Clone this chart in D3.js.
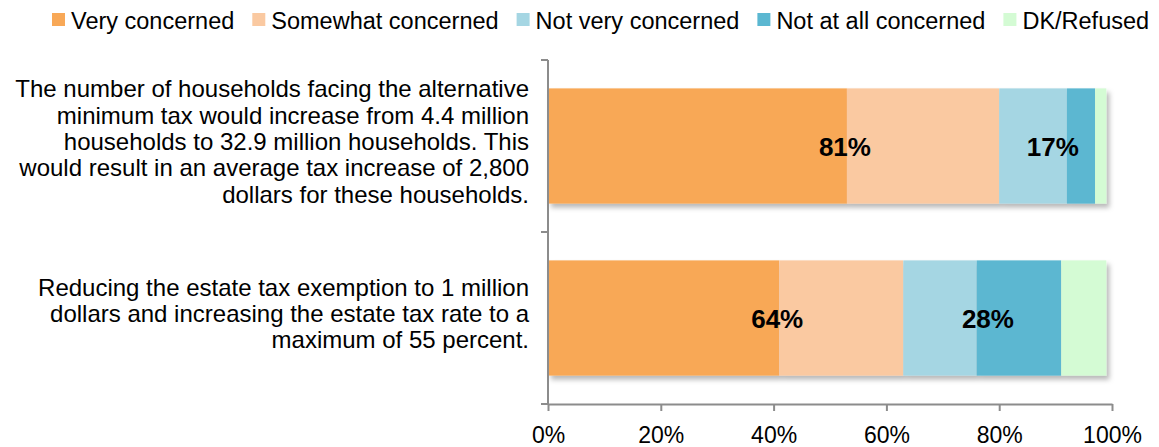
<!DOCTYPE html>
<html>
<head>
<meta charset="utf-8">
<script src="https://cdn.jsdelivr.net/npm/d3@7"></script>
<style>
  body { margin: 0; background: #fff; }
  svg { display: block; font-family: "Liberation Sans", Arial, sans-serif; }
</style>
</head>
<body>
<svg id="chart" width="1159" height="447"></svg>
<script>
// --- data --------------------------------------------------------
const categories = [
  "The number of households facing the alternative minimum tax would increase from 4.4 million households to 32.9 million households. This would result in an average tax increase of 2,800 dollars for these households.",
  "Reducing the estate tax exemption to 1 million dollars and increasing the estate tax rate to a maximum of 55 percent."
];
// line breaks as they appear in the original
const categoryLines = [
  ["The number of households facing the alternative",
   "minimum tax would increase from 4.4 million",
   "households to 32.9 million households. This",
   "would result in an average tax increase of 2,800",
   "dollars for these households."],
  ["Reducing the estate tax exemption to 1 million",
   "dollars and increasing the estate tax rate to a",
   "maximum of 55 percent."]
];
const seriesNames = ["Very concerned", "Somewhat concerned", "Not very concerned", "Not at all concerned", "DK/Refused"];
const veryConcerned     = [53, 41];
const somewhatConcerned = [27, 22];
const notVeryConcerned  = [12, 13];
const notAtAllConcerned = [5, 15];
const dkRefused         = [2, 8];
const concernedTotal    = [81, 64];
const notConcernedTotal = [17, 28];
const xTicks = [0, 20, 40, 60, 80, 100];

const colors = ["#F8A857", "#FAC9A1", "#A5D6E3", "#5BB7D1", "#D4FBD4"];

// --- layout ------------------------------------------------------
const svg = d3.select("#chart");
const plotLeft = 548, plotRight = 1112, plotTop = 60, plotBottom = 404;

const x = d3.scaleLinear().domain([0, 100]).range([plotLeft, plotRight]);
const y = d3.scaleBand().domain(categories).range([plotTop, plotBottom])
  .paddingInner(0.33).paddingOuter(0.165);
const color = d3.scaleOrdinal().domain(seriesNames).range(colors);

const rows = categories.map((c, i) => ({
  cat: c,
  values: [veryConcerned[i], somewhatConcerned[i], notVeryConcerned[i], notAtAllConcerned[i], dkRefused[i]]
}));

// shadow under the bars
const defs = svg.append("defs");
const f = defs.append("filter").attr("id", "shadow")
  .attr("x", "-5%").attr("y", "-10%").attr("width", "115%").attr("height", "130%");
f.append("feDropShadow").attr("dx", 3).attr("dy", 4).attr("stdDeviation", 2.5)
  .attr("flood-color", "#000").attr("flood-opacity", 0.28);

// bars
const barG = svg.append("g").selectAll("g").data(rows).enter().append("g")
  .attr("filter", "url(#shadow)");

barG.selectAll("rect")
  .data(d => {
    let acc = 0;
    return d.values.map((v, j) => { const s = acc; acc += v; return { cat: d.cat, name: seriesNames[j], x0: s, x1: acc }; });
  })
  .enter().append("rect")
  .attr("x", d => x(d.x0))
  .attr("width", d => x(d.x1) - x(d.x0))
  .attr("y", d => y(d.cat))
  .attr("height", y.bandwidth())
  .attr("fill", d => color(d.name));

// axes
const axisColor = "#8c8c8c";
const xAxis = svg.append("g")
  .attr("transform", `translate(0,${plotBottom})`)
  .call(d3.axisBottom(x).tickValues(xTicks).tickFormat(d => d + "%").tickSize(7).tickPadding(16).tickSizeOuter(0));
xAxis.select(".domain").attr("stroke", axisColor).attr("stroke-width", 2);
xAxis.selectAll(".tick line").attr("stroke", axisColor).attr("stroke-width", 2);
xAxis.selectAll(".tick text").attr("font-size", 23).attr("fill", "#000")
  .attr("font-family", "'Liberation Sans', Arial, sans-serif");

// vertical axis line with boundary ticks
const yAxisG = svg.append("g");
yAxisG.append("line").attr("x1", plotLeft).attr("x2", plotLeft).attr("y1", plotTop).attr("y2", plotBottom)
  .attr("stroke", axisColor).attr("stroke-width", 2);
const yBounds = [plotTop, (plotTop + plotBottom) / 2, plotBottom];
yAxisG.selectAll("line.t").data(yBounds).enter().append("line").attr("class", "t")
  .attr("x1", plotLeft - 7).attr("x2", plotLeft).attr("y1", d => d).attr("y2", d => d)
  .attr("stroke", axisColor).attr("stroke-width", 2);

// category labels
const lineH = 26.4;
svg.append("g").selectAll("text").data(categories).enter().append("text")
  .attr("text-anchor", "end")
  .attr("font-size", 24)
  .attr("fill", "#000")
  .each(function(c, i) {
    const lines = categoryLines[i];
    const cy = y(c) + y.bandwidth() / 2;
    const startY = cy - (lines.length - 1) * lineH / 2;
    d3.select(this).selectAll("tspan").data(lines).enter().append("tspan")
      .attr("x", 529)
      .attr("y", (d, k) => startY + k * lineH)
      .attr("dy", "0.17em")
      .text(d => d);
  });

// total labels
const labelG = svg.append("g").attr("font-size", 26).attr("font-weight", "bold").attr("text-anchor", "middle");
labelG.selectAll("text.c").data(rows).enter().append("text").attr("class", "c")
  .attr("x", (d, i) => x(veryConcerned[i]) - 2)
  .attr("y", d => y(d.cat) + y.bandwidth() / 2)
  .attr("dy", "0.4em")
  .text((d, i) => concernedTotal[i] + "%");
labelG.selectAll("text.n").data(rows).enter().append("text").attr("class", "n")
  .attr("x", (d, i) => x(concernedTotal[i] + notConcernedTotal[i] / 2))
  .attr("y", d => y(d.cat) + y.bandwidth() / 2)
  .attr("dy", "0.4em")
  .text((d, i) => notConcernedTotal[i] + "%");

// legend
const legend = svg.append("g").attr("transform", "translate(0,21)");
let lx = 52;
seriesNames.forEach(name => {
  const item = legend.append("g").attr("transform", `translate(${lx},0)`);
  item.append("rect").attr("x", 0).attr("y", -8).attr("width", 13).attr("height", 13).attr("fill", color(name));
  const t = item.append("text").attr("x", 19).attr("dy", "0.35em").attr("font-size", 23.5).attr("fill", "#000").text(name);
  lx += 19 + t.node().getComputedTextLength() + 18;
});
</script>
</body>
</html>
